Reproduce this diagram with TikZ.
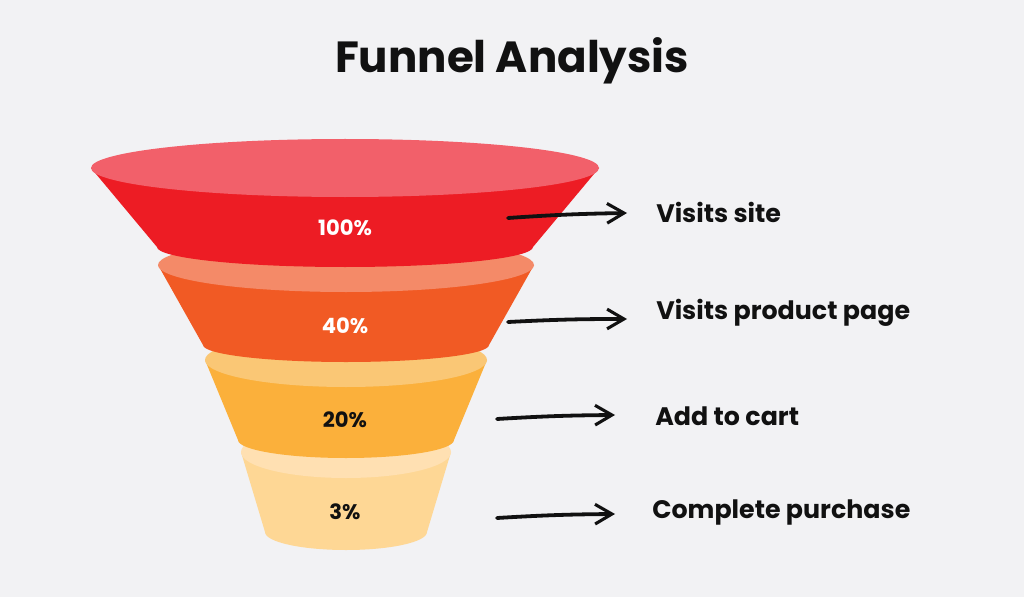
\documentclass[tikz,border=0pt]{standalone}
\usepackage{fontspec}
\setmainfont{Poppins}
\usetikzlibrary{arrows.meta,positioning}

\definecolor{bgcol}{HTML}{F2F2F4}
\definecolor{inkcol}{HTML}{111111}
\definecolor{redtop}{HTML}{F2606A}
\definecolor{redside}{HTML}{ED1C24}
\definecolor{orangetop}{HTML}{F48A68}
\definecolor{orangeside}{HTML}{F15A24}
\definecolor{yellowtop}{HTML}{FAC775}
\definecolor{yellowside}{HTML}{FBB03B}
\definecolor{paletop}{HTML}{FFE0B2}
\definecolor{paleside}{HTML}{FED795}

\tikzset{
  pct/.style={font=\bfseries\fontsize{15}{17}\selectfont},
  lbl/.style={anchor=west,inner sep=0pt,text=inkcol,font=\bfseries\fontsize{18}{21}\selectfont},
  pointer/.style={draw=inkcol,line width=2.7pt,line cap=round,
    -{Straight Barb[length=12pt,width=14pt,line width=2.2pt]}}
}

\begin{document}
\begin{tikzpicture}[x=0.025cm,y=-0.025cm]
  \useasboundingbox[fill=bgcol] (0,0) rectangle (1024,597);
  \node[text=inkcol,font=\bfseries\fontsize{31}{35}\selectfont] (title) at (512,61) {Funnel Analysis};
  % funnel, drawn from the bottom up
  \foreach \cx/\ya/\ra/\ha/\yb/\rb/\hb/\cside/\ctop in {%
      346/452/105/26/532/81/18/paleside/paletop,
      346/360/141/27/440/108/18/yellowside/yellowtop,
      346/265/188/27/345/143/17/orangeside/orangetop,
      345/168/254/29/247/188/20/redside/redtop}{
    \fill[\cside] (\cx-\ra,\ya) -- (\cx-\rb,\yb)
      arc[start angle=180,end angle=0,x radius=\rb,y radius=\hb]
      -- (\cx+\ra,\ya) -- cycle;
    \fill[\ctop] (\cx,\ya) ellipse[x radius=\ra,y radius=\ha];
  }
  \node[pct,text=white] (p100) at (345,228) {100\%};
  \node[pct,text=white] (p40) at (345,326) {40\%};
  \node[pct,text=inkcol] (p20) at (345,420) {20\%};
  \node[pct,text=inkcol] (p3) at (345,512) {3\%};
  % labels
  \node[lbl] (site) at (656,212) {Visits site};
  \node[lbl] (product) at (656,313) {Visits product page};
  \node[lbl] (cart) at (655,416) {Add to cart};
  \node[lbl] (purchase) at (652,512) {Complete purchase};
  % arrows
  \coordinate (a1) at (508,218); \coordinate (b1) at (627,213);
  \coordinate (a2) at (508,322); \coordinate (b2) at (627,319);
  \coordinate (a3) at (497,419); \coordinate (b3) at (615,415);
  \coordinate (a4) at (497,518); \coordinate (b4) at (615,514);
  \draw[pointer] (a1) to[bend left=1.5] (b1);
  \draw[pointer] (a2) to[bend left=1.5] (b2);
  \draw[pointer] (a3) to[bend left=1.5] (b3);
  \draw[pointer] (a4) to[bend left=1.5] (b4);
\end{tikzpicture}
\end{document}
